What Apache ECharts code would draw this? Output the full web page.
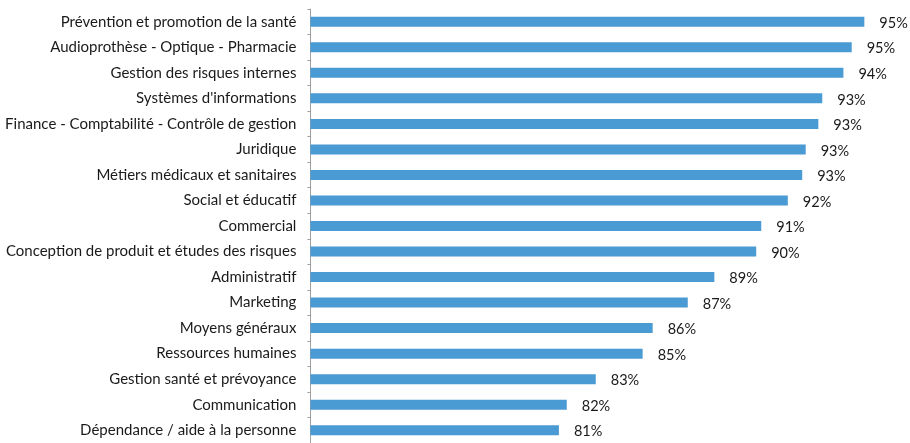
<!DOCTYPE html>
<html>
<head>
<meta charset="utf-8">
<script src="https://cdn.jsdelivr.net/npm/echarts@6/dist/echarts.min.js"></script>
<style>
  html, body { margin: 0; padding: 0; background: #ffffff; }
  #chart { width: 910px; height: 443px; }
</style>
</head>
<body>
<div id="chart"></div>
<script>
// Share of respondents per business area (%), listed top to bottom
const categories = [
  "Prévention et promotion de la santé",
  "Audioprothèse - Optique - Pharmacie",
  "Gestion des risques internes",
  "Systèmes d'informations",
  "Finance - Comptabilité - Contrôle de gestion",
  "Juridique",
  "Métiers médicaux et sanitaires",
  "Social et éducatif",
  "Commercial",
  "Conception de produit et études des risques",
  "Administratif",
  "Marketing",
  "Moyens généraux",
  "Ressources humaines",
  "Gestion santé et prévoyance",
  "Communication",
  "Dépendance / aide à la personne"
];

const values = [
  95.41, 94.83, 94.45, 93.48, 93.30, 92.72, 92.56, 91.90, 90.68,
  90.45, 88.53, 87.31, 85.70, 85.24, 83.09, 81.76, 81.40
];

const axisMin = 70;
const axisMax = 97;

const chart = echarts.init(document.getElementById('chart'), null, { renderer: 'canvas' });

chart.setOption({
  animation: false,
  backgroundColor: '#ffffff',
  grid: {
    left: 310.4,
    top: 9,
    width: 588.6,
    height: 437
  },
  xAxis: {
    type: 'value',
    min: axisMin,
    max: axisMax,
    show: false
  },
  yAxis: {
    type: 'category',
    inverse: true,
    data: categories,
    axisLine: { show: true, lineStyle: { color: '#a0a0a0', width: 1 } },
    axisTick: { show: true, length: 3, lineStyle: { color: '#a0a0a0' } },
    axisLabel: {
      color: '#1a1a1a',
      fontFamily: 'Lato',
      fontSize: 15,
      margin: 14
    },
    splitLine: { show: false }
  },
  series: [{
    type: 'bar',
    data: values,
    barWidth: 10,
    itemStyle: { color: '#4a9ad3' },
    label: {
      show: true,
      position: 'right',
      distance: 15,
      offset: [0, 1.5],
      color: '#1a1a1a',
      fontFamily: 'Lato',
      fontSize: 14.5,
      formatter: p => Math.round(p.value) + '%'
    }
  }]
});
</script>
</body>
</html>
